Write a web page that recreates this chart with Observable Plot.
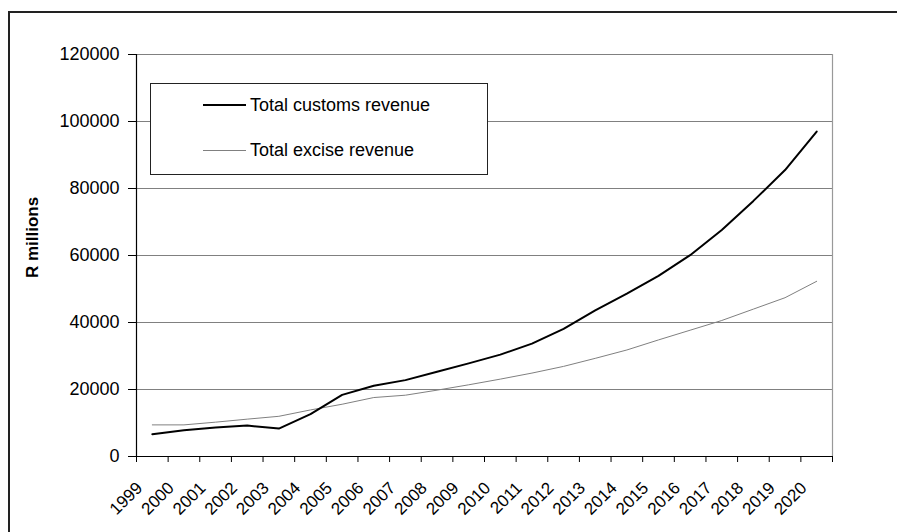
<!DOCTYPE html>
<html>
<head>
<meta charset="utf-8">
<script src="https://cdn.jsdelivr.net/npm/d3@7"></script>
<script src="https://cdn.jsdelivr.net/npm/@observablehq/plot@0.6"></script>
<style>
  html, body { margin: 0; padding: 0; background: #fff; }
  #wrap { position: relative; width: 897px; height: 532px; overflow: hidden; font-family: "Liberation Sans", Arial, sans-serif; }
  #frame { position: absolute; left: 8px; top: 11px; width: 2000px; height: 2000px; border-left: 2px solid #222; border-top: 2px solid #222; box-sizing: border-box; }
  #legend { position: absolute; left: 150px; top: 83px; width: 338px; height: 92px; box-sizing: border-box; border: 1px solid #222; background: #fff; font-size: 18px; color: #000; }
  .item { position: absolute; left: 52px; height: 22px; display: flex; align-items: center; }
  .swatch { width: 43px; margin-right: 4px; }
  #chart { position: absolute; left: 0; top: 0; }
</style>
</head>
<body>
<div id="wrap">
  <div id="frame"></div>
  <div id="chart"></div>
  <div id="legend"></div>
</div>
<script>
const years = ["1999","2000","2001","2002","2003","2004","2005","2006","2007","2008","2009","2010","2011","2012","2013","2014","2015","2016","2017","2018","2019","2020"];
const customs = [6650, 7850, 8630, 9230, 8330, 12640, 18400, 21100, 22800, 25300, 27800, 30400, 33700, 38100, 43600, 48600, 53900, 60100, 67600, 76300, 85500, 97000];
const excise = [9440, 9440, 10250, 11150, 12000, 13900, 15600, 17600, 18300, 19800, 21400, 23100, 24900, 26900, 29300, 31800, 34800, 37700, 40600, 44000, 47400, 52300];
const yTicks = [0, 20000, 40000, 60000, 80000, 100000, 120000];
const seriesNames = ["Total customs revenue", "Total excise revenue"];

const idx = years.map((_, i) => i);
const bounds = d3.range(-0.5, years.length, 1);
const rows = [];
idx.forEach(i => {
  rows.push({i, v: customs[i], s: seriesNames[0]});
  rows.push({i, v: excise[i], s: seriesNames[1]});
});

const chart = Plot.plot({
  width: 897,
  height: 532,
  marginLeft: 136,
  marginRight: 65,
  marginTop: 54,
  marginBottom: 76,
  style: {fontFamily: '"Liberation Sans", Arial, sans-serif', background: "transparent", color: "#000"},
  x: {type: "linear", domain: [-0.5, years.length - 0.5], axis: null},
  y: {domain: [0, 120000], axis: null},
  marks: [
    Plot.ruleY(yTicks.filter(d => d > 0), {stroke: "#808080", strokeWidth: 1.2}),
    Plot.ruleX([years.length - 0.5], {stroke: "#999", strokeWidth: 1.2}),
    Plot.line(rows.filter(d => d.s === seriesNames[1]), {x: "i", y: "v", stroke: "#808080", strokeWidth: 1}),
    Plot.line(rows.filter(d => d.s === seriesNames[0]), {x: "i", y: "v", stroke: "#000", strokeWidth: 2}),
    Plot.ruleX([-0.5], {stroke: "#000", strokeWidth: 1.2}),
    Plot.ruleY([0], {stroke: "#000", strokeWidth: 1.2}),
    Plot.axisY(yTicks, {tickSize: 8, tickPadding: 9, fontSize: 18, tickFormat: d => String(d), stroke: "#000", label: null}),
    Plot.axisX(bounds, {tickSize: 6, tickFormat: () => "", stroke: "#000", label: null}),
    Plot.text(idx, {x: d => d, y: () => 0, text: d => years[d], rotate: -45, textAnchor: "end", lineAnchor: "bottom", dy: 32.5, dx: -9, fontSize: 17, fill: "#000"}),
    Plot.text(["R millions"], {frameAnchor: "left", textAnchor: "middle", lineAnchor: "middle", rotate: -90, dx: -104, dy: -18, fontSize: 17, fontWeight: "bold", fill: "#000"})
  ]
});
document.getElementById("chart").appendChild(chart);

const legend = document.getElementById("legend");
const items = [
  {name: seriesNames[0], color: "#000", w: 2, top: 10},
  {name: seriesNames[1], color: "#808080", w: 1, top: 55}
];
items.forEach(it => {
  const d = document.createElement("div");
  d.className = "item";
  d.style.top = it.top + "px";
  const sw = document.createElement("div");
  sw.className = "swatch";
  sw.style.borderTop = it.w + "px solid " + it.color;
  const t = document.createElement("span");
  t.textContent = it.name;
  d.appendChild(sw);
  d.appendChild(t);
  legend.appendChild(d);
});
</script>
</body>
</html>
